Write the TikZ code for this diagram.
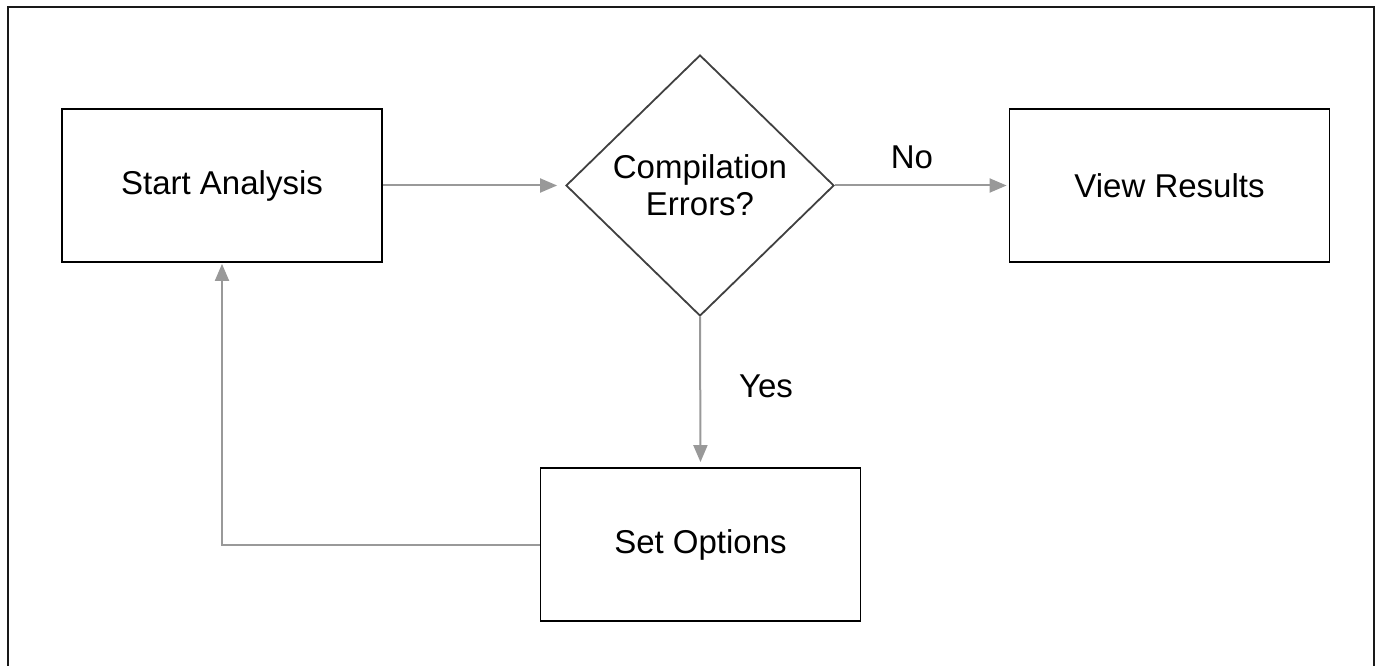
\documentclass[tikz,border=0pt]{standalone}
\usepackage{fontspec}
\setmainfont{Liberation Sans}
\usetikzlibrary{shapes.geometric,arrows.meta}
\begin{document}
\begin{tikzpicture}[x=1pt,y=-1pt,
  every node/.style={font=\fontsize{33}{39}\selectfont},
  procbox/.style={draw=black,line width=1.8pt,minimum width=320pt,minimum height=153pt,inner sep=0pt},
  decision/.style={draw=black!75,line width=1.8pt,shape=diamond,minimum width=268pt,minimum height=261pt,inner sep=0pt,align=center},
  flow/.style={draw=black!40,line width=2pt,-{Triangle[length=17pt,width=14pt]}},
  lbl/.style={inner sep=0pt}]
\useasboundingbox (0,0) rectangle (1382,666);
\draw[line width=2pt,black!90] (8,680) -- (8,7) -- (1374,7) -- (1374,680);
\node[procbox] (start) at (222,185.5) {Start Analysis};
\node[decision] (dec) at (700,185.5) {Compilation\\[-2pt]Errors?};
\node[procbox] (view) at (1169.5,185.5) {View Results};
\node[procbox] (set) at (700.5,544.5) {Set Options};
\coordinate (corner) at (222,544.5);
\draw[flow,shorten >=8pt] (start.east) -- (dec.west);
\draw[flow,shorten >=2pt] (dec.east) -- (view.west);
\draw[flow,shorten >=5pt] (dec.south) -- (set.north);
\draw[flow,shorten >=1pt] (set.west) -- (corner) -- (start.south);
\node[lbl] (no) at (912,157) {No};
\node[lbl] (yes) at (766,386) {Yes};
\end{tikzpicture}
\end{document}
